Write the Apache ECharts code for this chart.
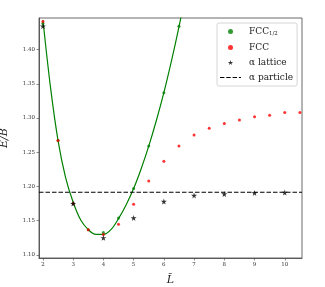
<!DOCTYPE html>
<html><head><meta charset="utf-8">
<script src="https://cdn.jsdelivr.net/npm/echarts@6/dist/echarts.min.js"></script>
<style>html,body{margin:0;padding:0;background:#fff}#c{width:325px;height:287px}</style>
</head><body><div id="c"></div>
<script>
// ---- data ----
const xTicks = [2,3,4,5,6,7,8,9,10];
const yTicks = [1.10,1.15,1.20,1.25,1.30,1.35,1.40];
const xRange = [1.87, 10.57];
const yRange = [1.0956, 1.446];

const fccHalfL = [2, 2.5, 3, 3.5, 4, 4.5, 5, 5.5, 6, 6.5];
const fccHalfE = [1.438, 1.267, 1.176, 1.137, 1.133, 1.154, 1.197, 1.259, 1.337, 1.434];

const fitL = [2.0, 2.25, 2.5, 2.75, 3.0, 3.25, 3.5, 3.75, 4.0, 4.25, 4.5, 4.75, 5.0, 5.25, 5.5, 5.75, 6.0, 6.25, 6.5, 6.6];
const fitE = [1.443, 1.345, 1.267, 1.213, 1.177, 1.151, 1.137, 1.130, 1.130, 1.137, 1.153, 1.173, 1.197, 1.226, 1.259, 1.296, 1.337, 1.383, 1.433, 1.455];

const fccL = [2, 2.5, 3, 3.5, 4, 4.5, 5, 5.5, 6, 6.5, 7, 7.5, 8, 8.5, 9, 9.5, 10, 10.5];
const fccE = [1.441, 1.267, 1.175, 1.137, 1.130, 1.145, 1.174, 1.208, 1.237, 1.259, 1.275, 1.285, 1.292, 1.297, 1.302, 1.304, 1.308, 1.308];

const alphaL = [2, 3, 4, 5, 6, 7, 8, 9, 10];
const alphaE = [1.434, 1.175, 1.125, 1.154, 1.178, 1.187, 1.189, 1.1905, 1.1912];

const alphaParticle = 1.1917;

const names = ['FCC_1/2', 'FCC', 'α lattice', 'α particle'];

// ---- chart ----
const zip = (a, b) => a.map((v, i) => [v, b[i]]);
const star = 'path://M50,0 L61,35 L98,35 L68,57 L79,91 L50,70 L21,91 L32,57 L2,35 L39,35 Z';
const dashIcon = 'path://M0,0h4.4v1.1h-4.4z M6.3,0h4.4v1.1h-4.4z M12.6,0h4.4v1.1h-4.4z M18.9,0h2.1v1.1h-2.1z';
const serif = 'DejaVu Serif';

const chart = echarts.init(document.getElementById('c'), null, {renderer: 'canvas'});
chart.setOption({
  animation: false,
  grid: {left: 39, right: 23, top: 18, bottom: 29, show: true, borderColor: '#444', borderWidth: 0.8,
    backgroundColor: 'transparent', containLabel: false, outerBoundsMode: 'none'},
  xAxis: {
    type: 'value', min: xRange[0], max: xRange[1],
    name: 'L\u0303', nameLocation: 'middle', nameGap: 17,
    nameTextStyle: {fontFamily: serif, fontStyle: 'italic', fontSize: 11, color: '#222'},
    axisLine: {show: true, lineStyle: {color: '#444', width: 0.8}},
    axisTick: {show: true, length: 2.5, customValues: xTicks, lineStyle: {color: '#444', width: 0.6}},
    axisLabel: {customValues: xTicks, fontFamily: serif, fontSize: 5.5, color: '#333', margin: 4},
    splitLine: {show: false}
  },
  yAxis: {
    type: 'value', min: yRange[0], max: yRange[1],
    name: '\u1EBC/B', nameLocation: 'middle', nameGap: 25,
    nameTextStyle: {fontFamily: serif, fontStyle: 'italic', fontSize: 11, color: '#222', lineHeight: 16},
    axisLine: {show: true, lineStyle: {color: '#444', width: 0.8}},
    axisTick: {show: true, length: 2.5, customValues: yTicks, lineStyle: {color: '#444', width: 0.6}},
    axisLabel: {customValues: yTicks, fontFamily: serif, fontSize: 5.5, color: '#333', margin: 4,
      formatter: v => v.toFixed(2)},
    splitLine: {show: false}
  },
  legend: {
    left: 217, top: 23, orient: 'vertical',
    backgroundColor: '#fff', borderColor: '#ccc', borderWidth: 0.8, borderRadius: 2,
    padding: [4, 4, 4, 3], itemGap: 6, itemWidth: 21, itemHeight: 5,
    data: [
      {name: names[0], icon: 'circle', itemStyle: {}},
      {name: names[1], icon: 'circle'},
      {name: names[2], icon: star},
      {name: names[3], icon: dashIcon, itemStyle: {color: '#000'}}
    ],
    formatter: n => n === 'FCC_1/2' ? '{a|FCC}{s|1/2}' : n,
    textStyle: {fontFamily: serif, fontSize: 9, color: '#222', padding: [0, 0, 0, 3],
      rich: {a: {fontFamily: serif, fontSize: 9, color: '#222'},
             s: {fontFamily: serif, fontSize: 5.5, color: '#222', padding: [5, 0, 0, 0]}}}
  },
  series: [
    {name: 'fit', type: 'line', data: zip(fitL, fitE), showSymbol: false, symbol: 'none', smooth: 0.35,
      lineStyle: {color: '#008000', width: 1.2}, z: 2, clip: true},
    {name: names[0], type: 'scatter', data: zip(fccHalfL, fccHalfE), symbol: 'circle', symbolSize: 3,
      itemStyle: {color: '#008000'}, z: 3},
    {name: names[1], type: 'scatter', data: zip(fccL, fccE), symbol: 'circle', symbolSize: 3,
      itemStyle: {color: '#ff0000'}, z: 3},
    {name: names[2], type: 'scatter', data: zip(alphaL, alphaE), symbol: star, symbolSize: 6,
      itemStyle: {color: '#000'}, z: 4},
    {name: names[3], type: 'line', data: [[xRange[0], alphaParticle], [xRange[1], alphaParticle]],
      symbol: 'none', lineStyle: {color: '#000', width: 1.1, type: [4.5, 2]}, itemStyle: {color: '#000'}, z: 2}
  ]
});
</script>
</body></html>
